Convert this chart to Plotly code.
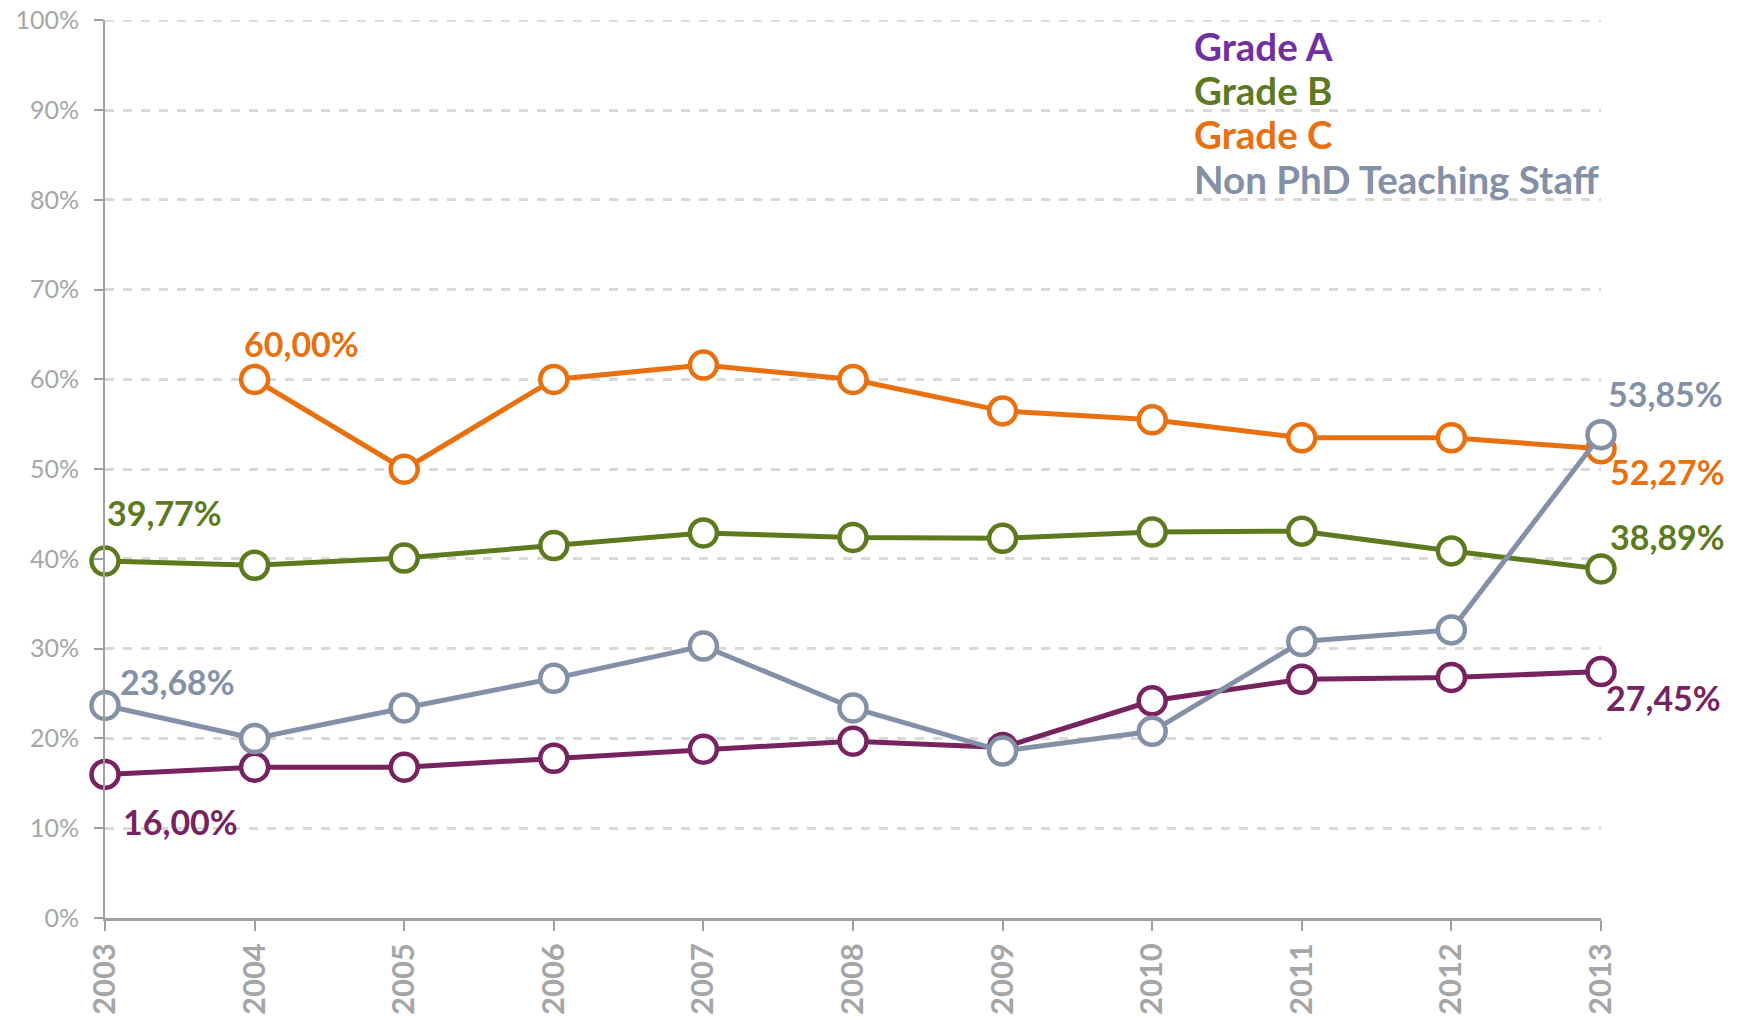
import plotly.graph_objects as go

years = [2003, 2004, 2005, 2006, 2007, 2008, 2009, 2010, 2011, 2012, 2013]
grade_a = [16.00, 16.8, 16.8, 17.8, 18.8, 19.7, 19.0, 24.2, 26.6, 26.8, 27.45]
grade_b = [39.77, 39.3, 40.1, 41.5, 42.9, 42.4, 42.3, 43.0, 43.1, 40.9, 38.89]
grade_c = [None, 60.00, 50.0, 60.0, 61.6, 60.0, 56.5, 55.5, 53.5, 53.5, 52.27]
non_phd = [23.68, 20.0, 23.4, 26.7, 30.3, 23.4, 18.6, 20.8, 30.8, 32.1, 53.85]

names = ["Grade A", "Grade B", "Grade C", "Non PhD Teaching Staff"]
line_colors = ["#76235F", "#5E7A1E", "#E8700F", "#8390A6"]
legend_colors = ["#7030A0", "#5E7A1E", "#E8700F", "#8390A6"]
y_ticks = [0, 10, 20, 30, 40, 50, 60, 70, 80, 90, 100]

FONT = "Lato"
GRID = "#D9D9D9"
series = [grade_a, grade_b, grade_c, non_phd]

fig = go.Figure()
for name, vals, col in zip(names, series, line_colors):
    fig.add_trace(go.Scatter(
        x=years, y=vals, mode="lines+markers", name=name,
        line=dict(color=col, width=5),
        marker=dict(symbol="circle", size=27, color="white",
                    line=dict(color=col, width=4.5)),
        cliponaxis=False, showlegend=False,
    ))

def fmt(v):
    return f"{v:.2f}".replace(".", ",") + "%"

# (series index, point index, xshift, yshift)
labels = [
    (0, 0, 75, -47),
    (0, 10, 62, -26),
    (1, 0, 59, 49),
    (1, 10, 66, 32),
    (2, 1, 47, 36),
    (2, 10, 66, -23),
    (3, 0, 72, 24),
    (3, 10, 64, 41),
]
for si, pi, xs, ys in labels:
    v = series[si][pi]
    fig.add_annotation(x=years[pi], y=v, text=fmt(v), showarrow=False,
                       xshift=xs, yshift=ys,
                       font=dict(family=FONT, size=34, color=line_colors[si], weight="bold"))

# legend as text entries
leg_y = [46, 90, 134, 179]
for name, col, yy in zip(names, legend_colors, leg_y):
    fig.add_annotation(xref="paper", yref="paper", x=(1192 - 105) / (1601 - 105),
                       y=1 - (yy - 20) / 898, text=name, showarrow=False,
                       xanchor="left", yanchor="middle",
                       font=dict(family=FONT, size=38.5, color=col, weight="bold"))

# top gridline at the range edge (plotly drops edge gridlines)
fig.add_shape(type="line", xref="paper", yref="y", x0=0, x1=1,
              y0=y_ticks[-1], y1=y_ticks[-1],
              line=dict(color=GRID, width=2.5, dash="dash"), layer="below")

fig.update_layout(
    width=1738, height=1018,
    margin=dict(l=105, r=137, t=20, b=100, autoexpand=False),
    paper_bgcolor="white", plot_bgcolor="white",
    font=dict(family=FONT),
)
fig.update_xaxes(
    range=[2003, 2013], tickmode="array", tickvals=years,
    ticktext=[str(y) for y in years], tickangle=-90, automargin=False,
    tickfont=dict(family=FONT, size=31, color="#A6A6A6", weight="bold"),
    showline=True, linecolor="#A0A0A0", linewidth=2.5,
    ticks="outside", ticklen=10, tickwidth=1.5, tickcolor="#A0A0A0",
    showgrid=False, zeroline=False,
)
fig.update_yaxes(
    range=[0, 100.05], tickmode="array", tickvals=y_ticks, automargin=False,
    ticktext=[f"{t}%" for t in y_ticks],
    tickfont=dict(family=FONT, size=25, color="#A6A6A6"),
    ticklabelstandoff=10, ticklabeloverflow="allow",
    showline=True, linecolor="#A0A0A0", linewidth=2,
    ticks="outside", ticklen=9, tickwidth=1.5, tickcolor="#A0A0A0",
    showgrid=True, gridcolor=GRID, griddash="dash", gridwidth=2.5,
    zeroline=False,
)

fig.write_html("out.html", config={"displayModeBar": False},
               post_script="document.body.style.margin='0';document.body.style.overflow='hidden';")
